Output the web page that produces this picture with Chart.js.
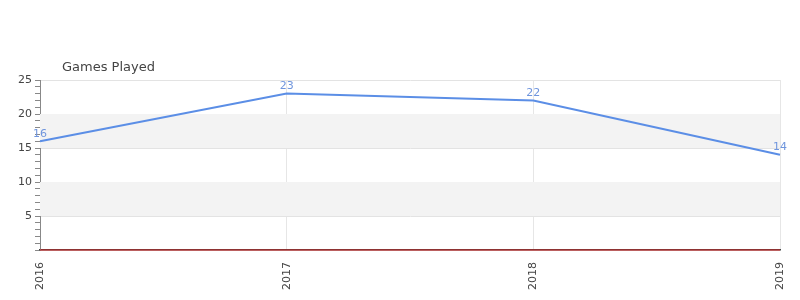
<!DOCTYPE html>
<html>
<head>
<meta charset="utf-8">
<script src="https://cdn.jsdelivr.net/npm/chart.js@4.4.0/dist/chart.umd.min.js"></script>
<style>
  html, body { margin: 0; padding: 0; background: #fff; }
  #wrap { width: 800px; height: 300px; }
</style>
</head>
<body>
<div id="wrap"><canvas id="gamesChart"></canvas></div>
<script>
// Data
const years = ['2016', '2017', '2018', '2019'];
const gamesPlayed = [16, 23, 22, 14];
const baseline = [0, 0, 0, 0];

// Alternating bands + value labels + title
const decorPlugin = {
    id: 'decor',
    beforeDatasetsDraw(chart) {
        const { ctx, chartArea, scales } = chart;
        const y = scales.y;
        ctx.save();
        ctx.fillStyle = '#f3f3f3';
        [[5, 10], [15, 20]].forEach(b => {
            const top = y.getPixelForValue(b[1]);
            const bottom = y.getPixelForValue(b[0]);
            ctx.fillRect(chartArea.left, top, chartArea.right - chartArea.left, bottom - top);
        });
        ctx.restore();
    },
    afterDatasetsDraw(chart) {
        const { ctx, chartArea } = chart;
        const meta = chart.getDatasetMeta(0);
        ctx.save();
        ctx.font = '11px "DejaVu Sans"';
        ctx.fillStyle = '#6f95dd';
        ctx.textAlign = 'center';
        ctx.textBaseline = 'bottom';
        meta.data.forEach((pt, i) => {
            ctx.fillText(String(gamesPlayed[i]), pt.x, pt.y - 2);
        });
        ctx.font = '13px "DejaVu Sans"';
        ctx.fillStyle = '#444';
        ctx.textAlign = 'left';
        ctx.textBaseline = 'alphabetic';
        ctx.fillText('Games Played', chartArea.left + 22, chartArea.top - 9);
        ctx.restore();
    }
};

const ctx = document.getElementById('gamesChart').getContext('2d');
const gamesChart = new Chart(ctx, {
    type: 'line',
    data: {
        labels: years,
        datasets: [{
            label: 'Games Played',
            data: gamesPlayed,
            borderColor: '#5b8ee6',
            borderWidth: 2,
            pointRadius: 0,
            tension: 0,
            fill: false
        }, {
            label: 'Baseline',
            data: baseline,
            borderColor: '#d62020',
            borderWidth: 1.2,
            pointRadius: 0,
            fill: false,
            clip: false
        }]
    },
    options: {
        responsive: true,
        maintainAspectRatio: false,
        animation: false,
        layout: {
            padding: { top: 80, right: 20, left: 0, bottom: 0 }
        },
        plugins: {
            legend: { display: false },
            tooltip: { enabled: false }
        },
        scales: {
            x: {
                offset: false,
                afterFit: s => {
                    s.height = 50;
                    s.paddingLeft = 0;
                    s.paddingRight = 0;
                },
                grid: {
                    color: '#e6e6e6',
                    drawTicks: false
                },
                border: { color: '#444', width: 1.5 },
                ticks: {
                    minRotation: 90,
                    maxRotation: 90,
                    padding: 12,
                    color: '#444',
                    font: { family: 'DejaVu Sans', size: 11 }
                }
            },
            y: {
                min: 0,
                max: 25,
                afterFit: s => { s.width = 40; },
                border: { color: '#888' },
                grid: {
                    color: c => (c.tick.value % 5 === 0 && c.tick.value > 0) ? '#e3e3e3' : 'rgba(0,0,0,0)',
                    tickColor: '#888',
                    tickLength: 5
                },
                ticks: {
                    stepSize: 1,
                    autoSkip: false,
                    padding: 3,
                    color: '#444',
                    font: { family: 'DejaVu Sans', size: 11 },
                    callback: v => (v % 5 === 0 && v > 0) ? v : ''
                }
            }
        }
    },
    plugins: [decorPlugin]
});
</script>
</body>
</html>
